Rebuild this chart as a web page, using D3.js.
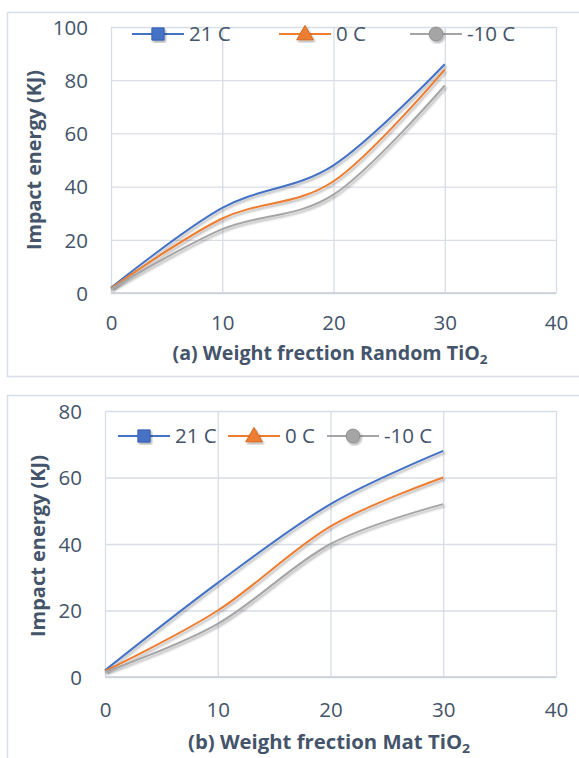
<!DOCTYPE html>
<html>
<head>
	<title>Impact energy vs weight fraction</title>
	<script src="https://d3js.org/d3.v7.min.js"></script>
	<style>
	body { margin: 0; background: #fff; }
	text { font-family: "Open Sans", sans-serif; }
	</style>
</head>
<body>
</body>
<script type="text/javascript">

// data
const xValues = [0, 10, 20, 30]
const seriesNames = ["21 C", "0 C", "-10 C"]

const randomT21 = [2, 32, 48, 86]
const randomT0 = [1.8, 28, 42, 84]
const randomTm10 = [1.5, 24, 37, 78]

const matT21 = [2, 28.3, 52, 68]
const matT0 = [1.8, 20, 45.3, 60]
const matTm10 = [1.5, 16, 40, 52]

const xTicks = [0, 10, 20, 30, 40]
const yTicksRandom = [0, 20, 40, 60, 80, 100]
const yTicksMat = [0, 20, 40, 60, 80]

const colors = ["#4472C4", "#ED7D31", "#A5A5A5"]
const strokes = ["#3763b0", "#d66a20", "#8f8f8f"]
const markers = [d3.symbolSquare, d3.symbolTriangle, d3.symbolCircle]
const textColor = "#44546A"
const gridColor = "#D9DDE4"

const width = 579
const height = 758

const svg = d3.select("body").append("svg")
		.attr("width", width)
		.attr("height", height)

// soft shadow like the excel line effect
const defs = svg.append("defs")
defs.append("filter")
		.attr("id", "shadow")
		.attr("x", "-10%").attr("y", "-10%")
		.attr("width", "130%").attr("height", "130%")
	.append("feDropShadow")
		.attr("dx", 1.5)
		.attr("dy", 2)
		.attr("stdDeviation", 1.2)
		.attr("flood-color", "#000")
		.attr("flood-opacity", 0.3)

function drawChart(cfg)
{
	const g = svg.append("g")

	// chart frame
	g.append("rect")
		.attr("x", cfg.frame[0] + 0.5)
		.attr("y", cfg.frame[1] + 0.5)
		.attr("width", cfg.frame[2])
		.attr("height", cfg.frame[3])
		.attr("fill", "none")
		.attr("stroke", gridColor)
		.attr("stroke-width", 1.5)

	const x = d3.scaleLinear().domain([0, 40]).range([cfg.left, cfg.right])
	const y = d3.scaleLinear().domain([0, cfg.yMax]).range([cfg.bottom, cfg.top])

	// vertical gridlines + x labels
	const xAxis = g.append("g")
		.attr("transform", "translate(0," + cfg.bottom + ")")
		.call(d3.axisBottom(x).tickValues(xTicks).tickSize(-(cfg.bottom - cfg.top)).tickPadding(0))
	xAxis.select(".domain").remove()
	xAxis.selectAll("line").attr("stroke", gridColor).attr("stroke-width", 1.3)
	xAxis.selectAll("text")
		.attr("fill", textColor)
		.attr("font-size", "20.5px")
		.attr("y", cfg.xLabelY - cfg.bottom)
		.attr("dy", 0)

	// horizontal gridlines + y labels
	const yAxis = g.append("g")
		.attr("transform", "translate(" + cfg.left + ",0)")
		.call(d3.axisLeft(y).tickValues(cfg.yTicks).tickSize(-(cfg.right - cfg.left)).tickPadding(0))
	yAxis.select(".domain").remove()
	yAxis.selectAll("line").attr("stroke", gridColor).attr("stroke-width", 1.3)
	yAxis.selectAll("text")
		.attr("fill", textColor)
		.attr("font-size", "20.5px")
		.attr("x", -23)
		.attr("dy", "0.36em")

	// bottom axis line a touch darker
	g.append("line")
		.attr("x1", cfg.left).attr("x2", cfg.right)
		.attr("y1", cfg.bottom).attr("y2", cfg.bottom)
		.attr("stroke", "#C9CED6")
		.attr("stroke-width", 1.5)

	// smoothed lines
	const line = d3.line()
		.x((d, i) => x(xValues[i]))
		.y(d => y(d))
		.curve(d3.curveCardinal.tension(0))

	cfg.series.forEach(function(s, i){
		g.append("path")
			.attr("d", line(s))
			.attr("fill", "none")
			.attr("stroke", colors[i])
			.attr("stroke-width", 2)
			.attr("filter", "url(#shadow)")
	})

	// legend
	cfg.legend.forEach(function(lx, i){
		const lg = g.append("g")
			.attr("transform", "translate(" + lx + "," + cfg.legendY + ")")
		lg.append("line")
			.attr("x1", 0).attr("x2", 52)
			.attr("y1", 0).attr("y2", 0)
			.attr("stroke", colors[i])
			.attr("stroke-width", 2)
		lg.append("path")
			.attr("d", d3.symbol().type(markers[i]).size(i == 1 ? 120 : 150)())
			.attr("transform", "translate(26," + (i == 1 ? 1 : 0) + ")")
			.attr("fill", colors[i])
			.attr("stroke", strokes[i])
			.attr("stroke-width", 1)
			.attr("filter", "url(#shadow)")
		lg.append("text")
			.attr("x", 57)
			.attr("dy", "0.36em")
			.attr("fill", textColor)
			.attr("font-size", "20.5px")
			.text(seriesNames[i])
	})

	// x title
	const xt = g.append("text")
		.attr("x", cfg.xTitle[0])
		.attr("y", cfg.xTitle[1])
		.attr("text-anchor", "middle")
		.attr("fill", textColor)
		.attr("font-size", "19px")
		.attr("font-weight", "bold")
		.attr("textLength", cfg.xTitle[2])
		.attr("lengthAdjust", "spacingAndGlyphs")
	xt.append("tspan").text(cfg.xTitleText)
	xt.append("tspan").attr("font-size", "13px").attr("dy", 4).text("2")

	// y title
	g.append("text")
		.attr("transform", "translate(" + cfg.yTitle[0] + "," + cfg.yTitle[1] + ") rotate(-90)")
		.attr("text-anchor", "middle")
		.attr("fill", textColor)
		.attr("font-size", "19.5px")
		.attr("font-weight", "bold")
		.attr("textLength", cfg.yTitle[2])
		.attr("lengthAdjust", "spacingAndGlyphs")
		.text("Impact energy (KJ)")
}

drawChart({
	frame: [7, 12, 620, 364],
	left: 111, right: 556, top: 27, bottom: 293,
	yMax: 100, yTicks: yTicksRandom,
	xLabelY: 330,
	series: [randomT21, randomT0, randomTm10],
	legend: [132, 279, 410], legendY: 34,
	xTitle: [330, 360, 315], xTitleText: "(a) Weight frection Random TiO",
	yTitle: [41, 160, 180]
})

drawChart({
	frame: [7, 395, 620, 400],
	left: 105, right: 556, top: 411, bottom: 677,
	yMax: 80, yTicks: yTicksMat,
	xLabelY: 717,
	series: [matT21, matT0, matTm10],
	legend: [118, 228, 327], legendY: 436,
	xTitle: [329, 749, 282], xTitleText: "(b) Weight frection Mat TiO",
	yTitle: [45, 546, 182]
})

</script>
</html>
